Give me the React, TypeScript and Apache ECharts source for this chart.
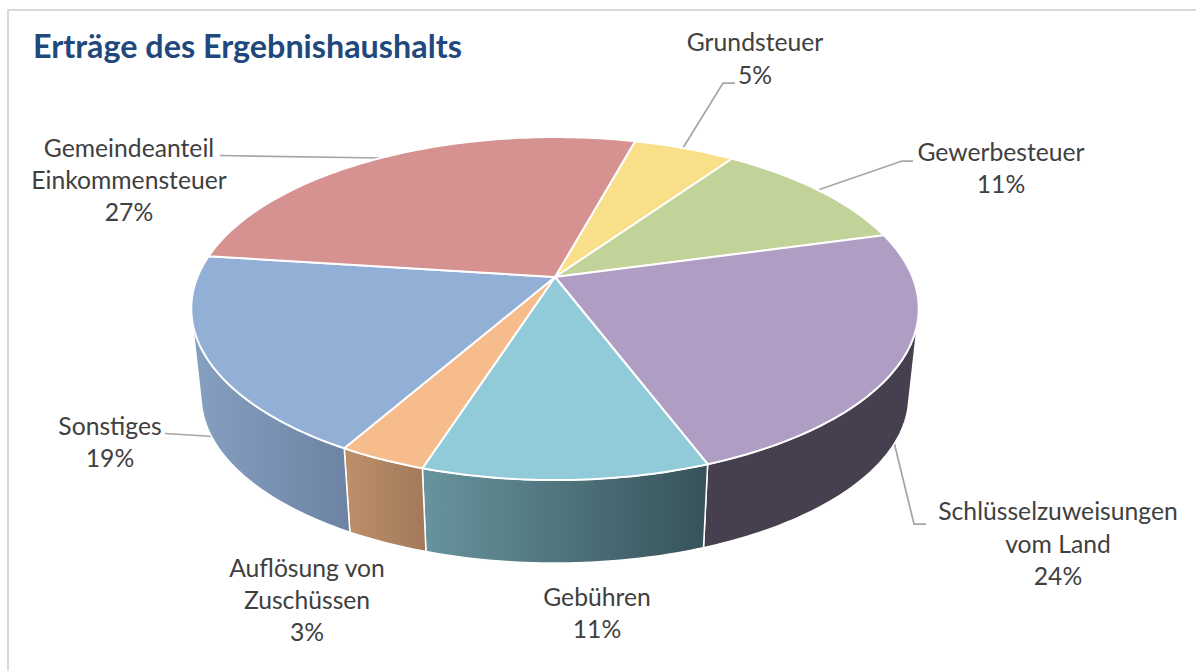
import React, { useEffect, useRef } from "react";
import * as echarts from "echarts";

const categories = ["Grundsteuer", "Gewerbesteuer", "Schlüsselzuweisungen\nvom Land", "Gebühren", "Auflösung von\nZuschüssen", "Sonstiges", "Gemeindeanteil\nEinkommensteuer"];
const shares = [5.4, 11.1, 23.5, 10.7, 3.3, 18.8, 27.2];
const titleText = "Erträge des Ergebnishaushalts";

const topColors = ["#f9df89", "#c1d398", "#b09dc4", "#91cad9", "#f7bc8c", "#92afd6", "#d59290"];
const wallFrom = ["#c9b46e", "#9aab7a", "#463f4f", "#67949d", "#bd9069", "#86a0c1", "#ab7674"];
const wallTo = ["#c9b46e", "#9aab7a", "#463f4f", "#36525a", "#a3795a", "#6d83a3", "#ab7674"];
const labelPos = [[755, 58], [1001, 167.5], [1058, 543], [597, 612.5], [307, 599.5], [110, 441.5], [129, 179.5]];
const leaders = [
  [[683, 148], [723, 83], [735, 83]],
  [[818, 190], [902, 161], [913, 161]],
  [[893, 438], [914, 524], [926, 524]],
  null,
  null,
  [[165, 433.5], [173, 434], [214, 436.5]],
  [[220, 155.5], [380, 158]],
];

const START = 15.3, CX = 555, CY = 277, K = 0.184, R = 357.5, Q = 165.7;
const DROP = 88.5, SHRINK = 0.973;
const FONT = "Lato";
const rad = (d: number) => (d * Math.PI) / 180;

function proj(a: number, bottom: boolean): number[] {
  const s = -Math.cos(rad(a)), c = Math.sin(rad(a));
  const w = 1 - K * s;
  const f = bottom ? SHRINK : 1;
  return [CX + (f * R * c) / w, CY + (bottom ? DROP : 0) + (f * Q * s) / w];
}
function arc(a: number, b: number, bottom: boolean): number[][] {
  const pts: number[][] = [];
  const n = Math.max(2, Math.ceil(Math.abs(b - a)));
  for (let i = 0; i <= n; i++) pts.push(proj(a + ((b - a) * i) / n, bottom));
  return pts;
}
function silhouette(from: number, to: number): number {
  const f = (a: number) => {
    const p = proj(a, false), q = proj(a + 0.1, false), d = proj(a, true);
    return (q[0] - p[0]) * (d[1] - p[1]) - (q[1] - p[1]) * (d[0] - p[0]);
  };
  let prev = f(from);
  for (let a = from + 0.5; a <= to; a += 0.5) {
    const cur = f(a);
    if (prev * cur <= 0) return a;
    prev = cur;
  }
  return from;
}
const SIL_R = silhouette(60, 130);
const SIL_L = silhouette(230, 310);

const bounds: number[] = [START];
shares.forEach((v, i) => bounds.push(bounds[i] + (v / 100) * 360));

export default function App() {
  const ref = useRef<HTMLDivElement>(null);
  useEffect(() => {
    const chart = echarts.init(ref.current!, undefined, { renderer: "svg" });
    const data = shares.map((v, i) => ({ value: v, name: categories[i] }));
    chart.setOption({
      animation: false,
      backgroundColor: "#ffffff",
      title: {
        text: titleText,
        left: 28,
        top: 24,
        textStyle: { fontFamily: FONT, fontWeight: "bold", fontSize: 32.3, color: "#1f497d" },
      },
      graphic: [
        { type: "polyline", silent: true, shape: { points: [[8, 671], [8, 10], [1196, 10]] }, style: { stroke: "#d9d9d9", lineWidth: 2, fill: "none" } },
      ],
      series: [
        {
          type: "custom",
          coordinateSystem: "none",
          z: 2,
          silent: true,
          data,
          renderItem: (p: any) => {
            const i = p.dataIndex;
            const a = Math.max(bounds[i], SIL_R), b = Math.min(bounds[i + 1], SIL_L);
            if (b <= a) return { type: "group", children: [] };
            const points = [...arc(a, b, false), ...arc(b, a, true)];
            return {
              type: "polygon",
              shape: { points },
              style: {
                fill: new echarts.graphic.LinearGradient(0, 0, 1, 0, [
                  { offset: 0, color: wallFrom[i] },
                  { offset: 1, color: wallTo[i] },
                ]),
                stroke: "#ffffff",
                lineWidth: 1.5,
              },
            };
          },
        },
        {
          type: "custom",
          coordinateSystem: "none",
          z: 3,
          silent: true,
          data,
          renderItem: (p: any) => {
            const i = p.dataIndex;
            return {
              type: "polygon",
              shape: { points: [[CX, CY], ...arc(bounds[i], bounds[i + 1], false)] },
              style: { fill: topColors[i], stroke: "#ffffff", lineWidth: 2, lineJoin: "round" },
            };
          },
        },
        {
          type: "custom",
          coordinateSystem: "none",
          z: 1,
          silent: true,
          data,
          renderItem: (p: any) => {
            const i = p.dataIndex;
            const children: any[] = [];
            if (leaders[i]) {
              children.push({
                type: "polyline",
                shape: { points: leaders[i] },
                style: { stroke: "#a6a6a6", lineWidth: 1.75, fill: "none" },
              });
            }
            return { type: "group", children };
          },
        },
        {
          type: "custom",
          coordinateSystem: "none",
          z: 4,
          silent: true,
          data,
          renderItem: (p: any) => {
            const i = p.dataIndex;
            return {
              type: "text",
              x: labelPos[i][0],
              y: labelPos[i][1],
              style: {
                text: `${categories[i]}\n${Math.round(shares[i])}%`,
                fill: "#404040",
                font: `24.7px ${FONT}`,
                align: "center",
                verticalAlign: "middle",
                lineHeight: 32.3,
              },
            };
          },
        },
      ],
    });
    return () => chart.dispose();
  }, []);
  return <div ref={ref} style={{ position: "fixed", left: 0, top: 0, width: 1196, height: 671 }} />;
}
